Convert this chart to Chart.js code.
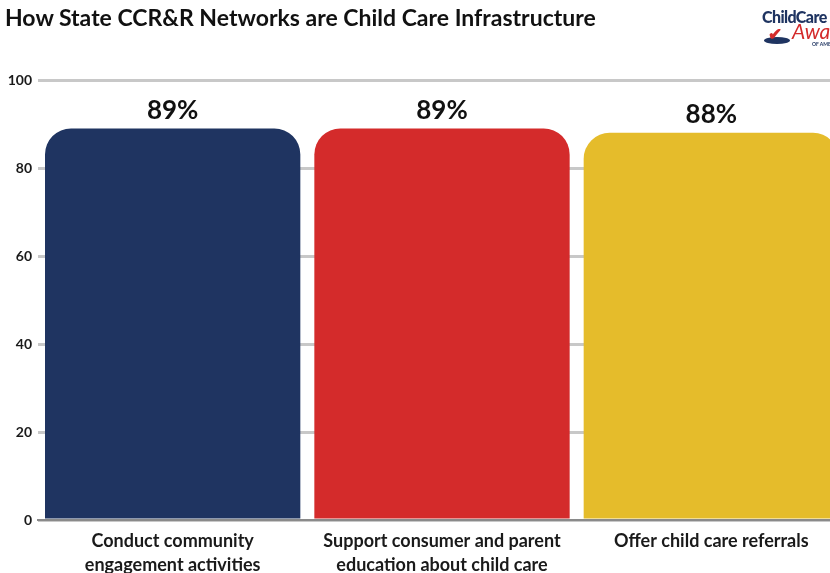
<!DOCTYPE html>
<html>
<head>
<meta charset="utf-8">
<script src="https://cdn.jsdelivr.net/npm/chart.js@4"></script>
<style>
  html, body { margin: 0; padding: 0; background: #fff; overflow: hidden; }
  #wrap { position: relative; width: 830px; height: 573px; overflow: hidden; }
  #chart-box { position: absolute; left: 0; top: 0; width: 846px; height: 600px; }
  #title { position: absolute; left: 5px; top: 3px; font-family: Lato, sans-serif; font-weight: bold; font-size: 23px; color: #111; white-space: nowrap; }
  #logo { position: absolute; left: 762px; top: 6px; font-family: Lato, sans-serif; white-space: nowrap; }
  #logo .cc { position: absolute; left: 0; top: 1px; font-weight: 900; font-size: 16px; color: #1f3461; letter-spacing: -0.6px; }
  #logo .aw { position: absolute; left: 30px; top: 12px; font-style: italic; font-size: 21px; color: #d42b2b; }
  #logo .am { position: absolute; left: 50px; top: 35px; font-size: 5px; font-weight: bold; color: #1f3461; }
  #logo .ck { position: absolute; left: 6px; top: 17px; font-weight: 900; font-size: 17px; color: #d42b2b; }
  #logo .sw { position: absolute; left: 2px; top: 31px; width: 26px; height: 7px; border-radius: 50%; background: #1f3461; }
</style>
</head>
<body>
<div id="wrap">
  <div id="chart-box"><canvas id="ccr-chart" width="846" height="600"></canvas></div>
  <div id="title">How State CCR&amp;R Networks are Child Care Infrastructure</div>
  <div id="logo"><span class="cc">ChildCare</span><span class="sw"></span><span class="ck">✔</span><span class="aw">Aware</span><span class="am">OF AMERICA</span></div>
</div>
<script>
const categories = [
    ['Conduct community', 'engagement activities'],
    ['Support consumer and parent', 'education about child care'],
    'Offer child care referrals'
];
const shares = [89, 89, 88];
const barColors = ['#1f3461', '#d42b2b', '#e5bc2b'];
const yTicks = [0, 20, 40, 60, 80, 100];

// etiquetas de valor em cima das barras
const valueLabels = {
    id: 'valueLabels',
    afterDatasetsDraw(chart) {
        const ctx = chart.ctx;
        const meta = chart.getDatasetMeta(0);
        ctx.save();
        ctx.font = 'bold 26px Lato';
        ctx.fillStyle = '#111';
        ctx.textAlign = 'center';
        ctx.textBaseline = 'bottom';
        meta.data.forEach((bar, i) => {
            ctx.fillText(shares[i] + '%', bar.x, bar.y - 5);
        });
        ctx.restore();
    }
};

const ctx = document.getElementById('ccr-chart').getContext('2d');
new Chart(ctx, {
    type: 'bar',
    data: {
        labels: categories,
        datasets: [{
            data: shares,
            backgroundColor: barColors,
            borderRadius: { topLeft: 26, topRight: 26, bottomLeft: 0, bottomRight: 0 },
            borderSkipped: 'bottom',
            barPercentage: 1,
            categoryPercentage: 0.948
        }]
    },
    options: {
        responsive: false,
        animation: false,
        layout: { padding: { top: 80, left: 0, right: 0, bottom: 0 } },
        plugins: {
            legend: { display: false },
            tooltip: { enabled: false }
        },
        scales: {
            x: {
                grid: { display: false },
                border: { display: true, color: '#8a8a8a', width: 2 },
                ticks: {
                    color: '#1a1a1a',
                    font: { family: 'Lato', size: 18, weight: 'bold', lineHeight: 1.35 },
                    padding: 1,
                    maxRotation: 0
                },
                afterFit(scale) { scale.height = 80; }
            },
            y: {
                min: 0,
                max: 100,
                afterBuildTicks(scale) { scale.ticks = yTicks.map(v => ({ value: v })); },
                grid: { color: '#c8c8c8', lineWidth: 3, drawTicks: false },
                border: { display: false },
                ticks: {
                    color: '#1a1a1a',
                    font: { family: 'Lato', size: 14, weight: 'bold' },
                    padding: 6
                },
                afterFit(scale) { scale.width = 38; }
            }
        }
    },
    plugins: [valueLabels]
});
</script>
</body>
</html>
